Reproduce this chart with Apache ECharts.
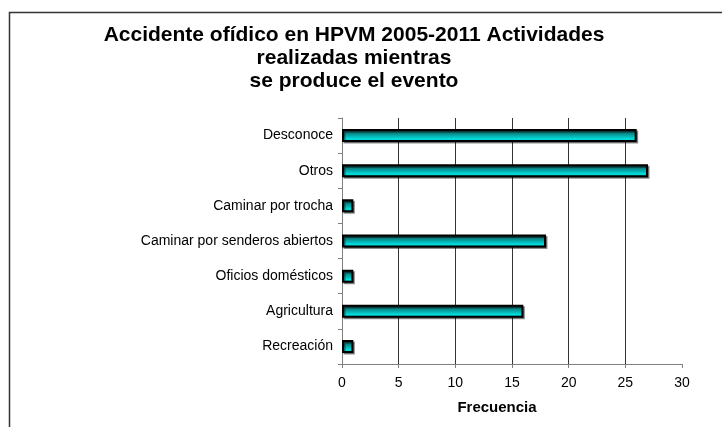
<!DOCTYPE html>
<html>
<head>
<meta charset="utf-8">
<script src="https://cdn.jsdelivr.net/npm/echarts@6/dist/echarts.min.js"></script>
<style>
  html, body { margin: 0; padding: 0; background: #fff; }
  #chart { width: 722px; height: 427px; }
</style>
</head>
<body>
<div id="chart"></div>
<script>
// categories bottom to top (category axis starts at the bottom)
var categories = ['Recreación', 'Agricultura', 'Oficios domésticos', 'Caminar por senderos abiertos', 'Caminar por trocha', 'Otros', 'Desconoce'];
var frecuencia = [1, 16, 1, 18, 1, 27, 26];
var xTicks = [0, 5, 10, 15, 20, 25, 30];

var myChart = echarts.init(document.getElementById('chart'));

var option = {
    backgroundColor: '#fff',
    textStyle: { fontFamily: 'Liberation Sans, Arial, sans-serif' },
    title: {
        text: 'Accidente ofídico en HPVM 2005-2011 Actividades\nrealizadas mientras\nse produce el evento',
        left: 349,
        top: 19,
        textAlign: 'center',
        textStyle: {
            fontSize: 21,
            fontWeight: 'bold',
            color: '#000',
            lineHeight: 23,
            fontFamily: 'Liberation Sans, Arial, sans-serif'
        }
    },
    graphic: [{
        type: 'rect',
        left: 7,
        top: 10,
        shape: { width: 900, height: 600 },
        style: { fill: 'none', stroke: '#333', lineWidth: 1.5 },
        silent: true,
        z: -1
    }],
    grid: { left: 342, right: 40, top: 118, bottom: 63 },
    xAxis: {
        type: 'value',
        min: xTicks[0],
        max: xTicks[xTicks.length - 1],
        interval: 5,
        name: 'Frecuencia',
        nameLocation: 'middle',
        nameGap: 36,
        nameTextStyle: { fontSize: 15, fontWeight: 'bold', color: '#000', padding: [0, 30, 0, 0] },
        axisLine: { show: true, lineStyle: { color: '#808080', width: 1 } },
        axisTick: { show: true, length: 4, lineStyle: { color: '#808080' } },
        axisLabel: { fontSize: 14, color: '#000', margin: 12, showMaxLabel: true },
        splitLine: {
            show: true,
            lineStyle: { color: '#333', width: 1 },
            showMaxLine: false,
            showMinLine: false
        }
    },
    yAxis: {
        type: 'category',
        data: categories,
        axisLine: { show: true, lineStyle: { color: '#808080', width: 1 } },
        axisTick: { show: true, length: 4, lineStyle: { color: '#808080' } },
        axisLabel: { fontSize: 14, color: '#000', margin: 9 }
    },
    series: [{
        type: 'bar',
        data: frecuencia,
        barWidth: 13,
        itemStyle: {
            color: new echarts.graphic.LinearGradient(0, 0, 0, 1, [
                { offset: 0, color: '#0e3c3c' },
                { offset: 0.35, color: '#0a8a8a' },
                { offset: 0.75, color: '#00dcdc' },
                { offset: 1, color: '#00b8b8' }
            ]),
            borderColor: '#000',
            borderWidth: 2,
            shadowColor: 'rgba(0,0,0,0.45)',
            shadowOffsetX: 1.5,
            shadowOffsetY: 1.5,
            shadowBlur: 0
        }
    }]
};

myChart.setOption(option);
</script>
</body>
</html>
